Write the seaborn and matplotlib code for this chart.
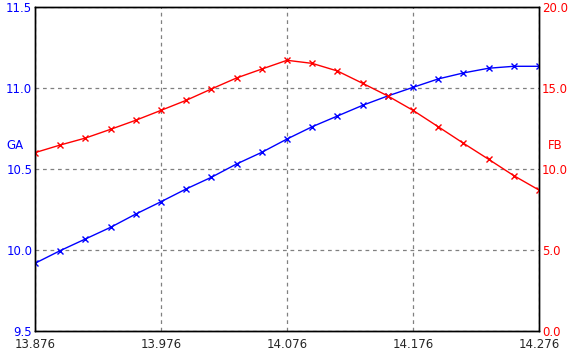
import numpy as np
import pandas as pd
import matplotlib
matplotlib.use('Agg')
import matplotlib.pyplot as plt
import seaborn as sns

x_vals = [13.876, 13.896, 13.916, 13.936, 13.956, 13.976, 13.996, 14.016, 14.036, 14.056,
          14.076, 14.096, 14.116, 14.136, 14.156, 14.176, 14.196, 14.216, 14.236, 14.256, 14.276]
ga = [9.918, 9.996, 10.068, 10.140, 10.222, 10.298, 10.377, 10.449, 10.531, 10.603,
      10.685, 10.761, 10.827, 10.893, 10.951, 11.004, 11.056, 11.093, 11.122, 11.134, 11.134]
fb = [11.01, 11.48, 11.91, 12.45, 13.01, 13.62, 14.24, 14.94, 15.62, 16.17,
      16.71, 16.52, 16.05, 15.29, 14.51, 13.62, 12.61, 11.59, 10.60, 9.59, 8.70]
x_ticks = [13.876, 13.976, 14.076, 14.176, 14.276]
ga_ticks = [9.5, 10.0, 10.5, 11.0, 11.5]
fb_ticks = [0.0, 5.0, 10.0, 15.0, 20.0]

df = pd.DataFrame({'x': x_vals, 'GA': ga, 'FB': fb})

sns.set_style('white')
plt.rcParams['font.family'] = ['DejaVu Sans']
fig = plt.figure(figsize=(5.72, 3.56), dpi=100)
ax = fig.add_axes([35/572, 25/356, 504/572, 324/356])
ax2 = ax.twinx()

sns.lineplot(data=df, x='x', y='GA', ax=ax, color='blue', marker='x', markersize=5,
             markeredgewidth=1, markeredgecolor='blue', linewidth=1)
sns.lineplot(data=df, x='x', y='FB', ax=ax2, color='red', marker='x', markersize=5,
             markeredgewidth=1, markeredgecolor='red', linewidth=1)

ax.set_xlim(x_ticks[0], x_ticks[-1])
ax.set_ylim(ga_ticks[0], ga_ticks[-1])
ax2.set_ylim(fb_ticks[0], fb_ticks[-1])
ax.set_xticks(x_ticks)
ax.set_xticklabels([f'{v:.3f}' for v in x_ticks], fontsize=8.5)
ax.set_yticks(ga_ticks)
ax.set_yticklabels([f'{v:.1f}' for v in ga_ticks], fontsize=8.5, color='blue')
ax2.set_yticks(fb_ticks)
ax2.set_yticklabels([f'{v:.1f}' for v in fb_ticks], fontsize=8.5, color='red')

ax.tick_params(axis='y', length=0, pad=2)
ax.tick_params(axis='x', length=0, pad=5)
ax2.tick_params(length=0, pad=2)
ax.grid(True, color='gray', linestyle=(0, (3, 3)), linewidth=0.9)
ax.set_axisbelow(True)

ax.set_xlabel('')
ax.set_ylabel('GA', rotation=0, color='blue', fontsize=8.5, va='center', ha='center')
ax.yaxis.set_label_coords(-0.04, 0.574)
ax2.set_ylabel('FB', rotation=0, color='red', fontsize=8.5, va='center', ha='center')
ax2.yaxis.set_label_coords(1.032, 0.574)

for a in (ax, ax2):
    for s in a.spines.values():
        s.set_color('black')
        s.set_linewidth(1)

fig.savefig('out.png', dpi=100, facecolor='white')
